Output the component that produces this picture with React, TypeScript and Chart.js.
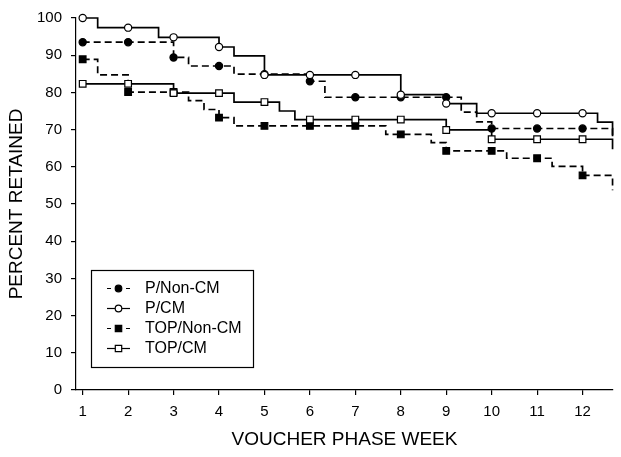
import React, { useEffect, useRef } from 'react';
import { Chart, registerables } from 'chart.js';

Chart.register(...registerables);

// ---- data ----
const WEEKS = [1, 2, 3, 4, 5, 6, 7, 8, 9, 10, 11, 12];
const Y_TICKS = [0, 10, 20, 30, 40, 50, 60, 70, 80, 90, 100];
const X_TITLE = 'VOUCHER PHASE WEEK';
const Y_TITLE = 'PERCENT RETAINED';
const SERIES_NAMES = ['P/Non-CM', 'P/CM', 'TOP/Non-CM', 'TOP/CM'];

const P_NONCM_TIMES = [1, 3, 3.33, 4.33, 6, 6.33, 9.33, 9.67, 10, 12.66];
const P_NONCM_VALUES = [93.5, 89.4, 87.1, 84.9, 83.0, 78.7, 74.7, 72.1, 70.3, 68.2];

const P_CM_TIMES = [1, 1.33, 2.67, 4, 4.33, 5, 8, 9, 9.67, 12.33, 12.66];
const P_CM_VALUES = [100, 97.4, 94.8, 92.2, 89.8, 84.7, 79.4, 77.0, 74.4, 72.0, 68.2];

const TOP_NONCM_TIMES = [1, 1.33, 2, 3.33, 3.67, 4, 4.33, 7.67, 8.67, 9, 10.33, 11.33, 12, 12.66];
const TOP_NONCM_VALUES = [88.9, 84.7, 80.1, 77.8, 75.4, 73.2, 71.0, 68.7, 66.5, 64.3, 62.3, 60.1, 57.7, 53.7];

const TOP_CM_TIMES = [1, 3, 4.33, 5.33, 5.67, 9, 10, 12.66];
const TOP_CM_VALUES = [82.3, 79.8, 77.4, 75.0, 72.7, 69.9, 67.4, 64.7];

// ---- styles ----
const FONT = '"Liberation Sans", Arial, Helvetica, sans-serif';
const DASH = [7, 4];
const LINE_W = 1.7;

type Style = { dashed: boolean; filled: boolean; shape: 'circle' | 'rect' };
const STYLES: Style[] = [
  { dashed: true, filled: true, shape: 'circle' },
  { dashed: false, filled: false, shape: 'circle' },
  { dashed: true, filled: true, shape: 'rect' },
  { dashed: false, filled: false, shape: 'rect' },
];

function buildPoints(times: number[], values: number[]) {
  const pts: { x: number; y: number; m: boolean }[] = times.map((t, i) => ({
    x: t,
    y: values[i],
    m: WEEKS.includes(t),
  }));
  WEEKS.forEach((w) => {
    if (times.includes(w)) return;
    let idx = -1;
    times.forEach((t, i) => {
      if (t <= w) idx = i;
    });
    if (idx >= 0) pts.push({ x: w, y: values[idx], m: true });
  });
  pts.sort((a, b) => a.x - b.x);
  return pts;
}

const SERIES_DATA = [
  [P_NONCM_TIMES, P_NONCM_VALUES],
  [P_CM_TIMES, P_CM_VALUES],
  [TOP_NONCM_TIMES, TOP_NONCM_VALUES],
  [TOP_CM_TIMES, TOP_CM_VALUES],
];

function markerRadius(s: Style) {
  return s.shape === 'circle' ? 3.6 : 4.7;
}

const legendPlugin = {
  id: 'boxLegend',
  afterDraw(chart: any) {
    const ctx = chart.ctx as CanvasRenderingContext2D;
    const { left, bottom } = chart.chartArea;
    const bx = left + 15;
    const by = bottom - 120;
    const bw = 162;
    const bh = 97;
    ctx.save();
    ctx.fillStyle = '#fff';
    ctx.fillRect(bx, by, bw, bh);
    ctx.strokeStyle = '#000';
    ctx.lineWidth = 1.2;
    ctx.strokeRect(bx + 0.5, by + 0.5, bw, bh);
    SERIES_NAMES.forEach((name, i) => {
      const s = STYLES[i];
      const cy = by + 18.5 + i * 20;
      const x0 = bx + 16;
      const x1 = bx + 39;
      const cx = bx + 27.5;
      ctx.strokeStyle = '#000';
      ctx.lineWidth = 1.2;
      ctx.setLineDash([]);
      ctx.beginPath();
      if (s.dashed) {
        ctx.moveTo(x0, cy);
        ctx.lineTo(x0 + 4, cy);
        ctx.moveTo(x1 - 4, cy);
        ctx.lineTo(x1, cy);
      } else {
        ctx.moveTo(x0, cy);
        ctx.lineTo(x1, cy);
      }
      ctx.stroke();
      ctx.beginPath();
      if (s.shape === 'circle') {
        ctx.arc(cx, cy, 3.3, 0, Math.PI * 2);
      } else {
        ctx.rect(cx - 3.2, cy - 3.2, 6.4, 6.4);
      }
      ctx.fillStyle = s.filled ? '#000' : '#fff';
      ctx.fill();
      ctx.stroke();
      ctx.fillStyle = '#000';
      ctx.font = `16px ${FONT}`;
      ctx.textAlign = 'left';
      ctx.textBaseline = 'middle';
      ctx.fillText(name, bx + 54, cy + 0.5);
    });
    ctx.restore();
  },
};

export default function App() {
  const ref = useRef<HTMLCanvasElement>(null);

  useEffect(() => {
    if (!ref.current) return;
    const datasets = SERIES_NAMES.map((name, i) => {
      const s = STYLES[i];
      const [times, values] = SERIES_DATA[i];
      const r = markerRadius(s);
      return {
        label: name,
        data: buildPoints(times, values),
        stepped: 'before' as const,
        borderColor: '#000',
        borderWidth: LINE_W,
        borderDash: s.dashed ? DASH : [],
        fill: false,
        pointStyle: s.shape,
        pointRadius: (c: any) => (c.raw && c.raw.m ? r : 0),
        pointHoverRadius: (c: any) => (c.raw && c.raw.m ? r : 0),
        pointBackgroundColor: s.filled ? '#000' : '#fff',
        pointBorderColor: '#000',
        pointBorderWidth: 1.2,
        order: s.filled ? 1 : 0,
        clip: false as const,
      };
    });

    const axisGrid = {
      display: true,
      drawOnChartArea: false,
      drawTicks: true,
      tickLength: 5,
      color: '#000',
      lineWidth: 1.2,
    };
    const axisBorder = { display: true, color: '#000', width: 1.2 };

    const chart = new Chart(ref.current, {
      type: 'line',
      data: { datasets: datasets as any },
      options: {
        animation: false,
        responsive: false,
        devicePixelRatio: 1,
        layout: { padding: { top: 13, right: 8, left: 0, bottom: 0 } },
        plugins: {
          legend: { display: false },
          tooltip: { enabled: false },
        },
        events: [],
        scales: {
          x: {
            type: 'linear',
            min: 0.853,
            max: 12.67,
            afterFit: (s: any) => {
              s.height = 67;
            },
            afterBuildTicks: (s: any) => {
              s.ticks = WEEKS.map((v) => ({ value: v }));
            },
            ticks: {
              padding: 8,
              color: '#000',
              font: { size: 15, family: FONT },
              maxRotation: 0,
              autoSkip: false,
            },
            grid: axisGrid,
            border: axisBorder,
            title: {
              display: true,
              text: X_TITLE,
              color: '#000',
              font: { size: 19, family: FONT },
              padding: { top: 0, bottom: 5.5 },
            },
          },
          y: {
            type: 'linear',
            min: 0,
            max: 100,
            afterFit: (s: any) => {
              s.width = 76;
            },
            afterBuildTicks: (s: any) => {
              s.ticks = Y_TICKS.map((v) => ({ value: v }));
            },
            ticks: {
              padding: 9,
              color: '#000',
              font: { size: 15, family: FONT },
              autoSkip: false,
            },
            grid: axisGrid,
            border: axisBorder,
            title: {
              display: true,
              text: Y_TITLE,
              color: '#000',
              font: { size: 19, family: FONT },
              padding: { top: 5.5, bottom: 0 },
            },
          },
        },
      } as any,
      plugins: [legendPlugin],
    });
    return () => chart.destroy();
  }, []);

  return (
    <div
      style={{
        position: 'absolute',
        left: 0,
        top: 0,
        width: 621,
        height: 457,
        background: '#fff',
      }}
    >
      <canvas ref={ref} width={621} height={457} style={{ display: 'block' }} />
    </div>
  );
}
